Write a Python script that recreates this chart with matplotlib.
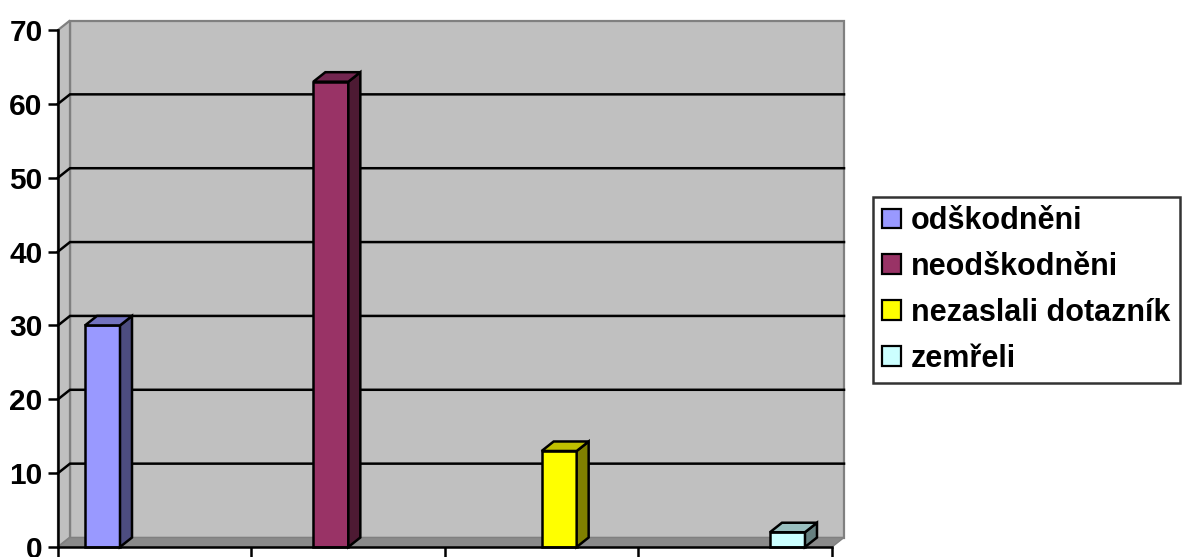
import matplotlib
matplotlib.use("Agg")
import matplotlib.pyplot as plt
from matplotlib.patches import Polygon, Patch

plt.rcParams['font.family'] = ['Liberation Sans', 'DejaVu Sans']

series = ["odškodněni", "neodškodněni", "nezaslali dotazník", "zemřeli"]
values = [30, 63, 13, 2]
front_colors = ["#9999FF", "#993366", "#FFFF00", "#CCFFFF"]
side_colors = ["#4D4D80", "#4D1A33", "#808000", "#668080"]
top_colors = ["#7373BF", "#732650", "#BFBF00", "#99BFBF"]
yticks = [0, 10, 20, 30, 40, 50, 60, 70]

W, H = 1182, 557
fig = plt.figure(figsize=(W / 100, H / 100), dpi=100)
ax_l, ax_r, ax_b, ax_t = 58, 832, 547, 30
ax = fig.add_axes([ax_l / W, 1 - ax_b / H, (ax_r - ax_l) / W, (ax_b - ax_t) / H])
ax.set_xlim(0, 4)
ax.set_ylim(0, 70)

# pixel -> data conversion for depth offsets
px_x = 4 / (ax_r - ax_l)
px_y = 70 / (ax_b - ax_t)
dx = 12 * px_x
dy = 9.5 * px_y

wall = "#C0C0C0"
edge = "#808080"
# back wall
ax.add_patch(Polygon([(dx, dy), (4 + dx, dy), (4 + dx, 70 + dy), (dx, 70 + dy)],
                     closed=True, facecolor=wall, edgecolor=edge, lw=1.6,
                     clip_on=False, zorder=0))
# left side wall
ax.add_patch(Polygon([(0, 0), (dx, dy), (dx, 70 + dy), (0, 70)], closed=True,
                     facecolor=wall, edgecolor=edge, lw=1.6, clip_on=False, zorder=0.5))
# gridlines
for yv in yticks[1:-1]:
    ax.plot([0, dx, 4 + dx], [yv, yv + dy, yv + dy], color="black", lw=1.8,
            clip_on=False, zorder=1, solid_joinstyle='miter')
# floor
ax.add_patch(Polygon([(0, 0), (4, 0), (4 + dx, dy), (dx, dy)], closed=True,
                     facecolor="#8A8A8A", edgecolor=edge, lw=1.0, clip_on=False, zorder=1.5))

# bars
bar_w = 35 * px_x
start = (85 - ax_l) * px_x + bar_w / 2
step = 1.18
positions = [start + i * step for i in range(len(values))]
bars = ax.bar(positions, values, width=bar_w, color=front_colors, edgecolor="black",
              lw=1.8, zorder=3, clip_on=False)
for b, sc, tc in zip(bars, side_colors, top_colors):
    x0 = b.get_x()
    x1 = x0 + b.get_width()
    v = b.get_height()
    ax.add_patch(Polygon([(x1, 0), (x1 + dx, dy), (x1 + dx, v + dy), (x1, v)], closed=True,
                         facecolor=sc, edgecolor="black", lw=1.8, zorder=3,
                         clip_on=False, joinstyle='miter'))
    ax.add_patch(Polygon([(x0, v), (x0 + dx, v + dy), (x1 + dx, v + dy), (x1, v)], closed=True,
                         facecolor=tc, edgecolor="black", lw=1.8, zorder=3,
                         clip_on=False, joinstyle='miter'))

# axes styling
ax.set_facecolor("none")
for s in ["top", "right"]:
    ax.spines[s].set_visible(False)
for s in ["left", "bottom"]:
    ax.spines[s].set_color("black")
    ax.spines[s].set_linewidth(1.8)
    ax.spines[s].set_zorder(4)
ax.set_yticks(yticks)
ax.set_yticklabels([str(t) for t in yticks], fontsize=21.5, fontweight="bold")
ax.set_xticks([0, 1, 2, 3, 4])
ax.set_xticklabels([])
ax.tick_params(axis="y", direction="out", length=7, width=1.8, pad=4, color="black")
ax.tick_params(axis="x", direction="out", length=7.5, width=1.8, color="black")

handles = [Patch(facecolor=c, edgecolor="black", lw=1.6) for c in front_colors]
leg = fig.legend(handles, series, loc="upper left",
                 bbox_to_anchor=(873 / W, 1 - 197 / H), borderaxespad=0,
                 prop={"size": 22, "weight": "bold"}, frameon=True, fancybox=False,
                 edgecolor="black", handlelength=0.62, handleheight=0.62,
                 handletextpad=0.33, borderpad=0.3, labelspacing=0.52)
leg.get_frame().set_linewidth(1.8)

fig.savefig("out.png", dpi=100)
